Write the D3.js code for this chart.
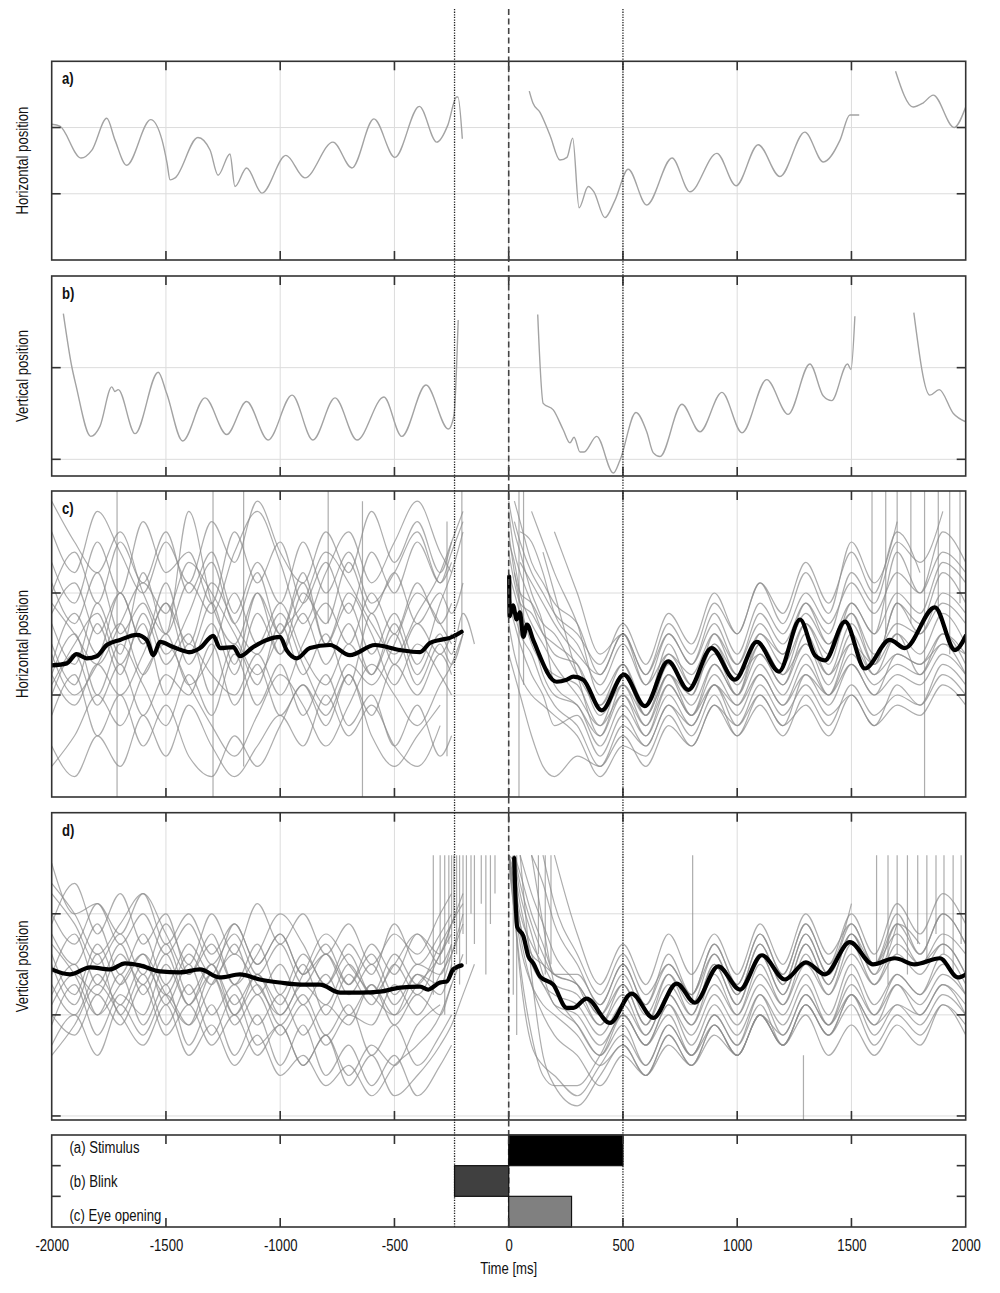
<!DOCTYPE html>
<html><head><meta charset="utf-8">
<script src="https://cdn.jsdelivr.net/npm/d3@7"></script>
<style>
body{margin:0;background:#fff;}
svg{display:block;font-family:"Liberation Sans",Arial,sans-serif;}
</style></head><body><svg id="chart" width="1000" height="1293"></svg>
<script>
// ---------------- DATA ----------------
const X_TICKS = [-2000,-1500,-1000,-500,0,500,1000,1500,2000];
const GRID_X = [-1500,-1000,-500,0,500,1000,1500];
const REF_TIMES = [-237, 0, 500];           // blink start, stimulus onset, stimulus end
const EVENT_ROWS = ["(a) Stimulus","(b) Blink","(c) Eye opening"];
const EVENT_START = [0, -237, 0];
const EVENT_END = [500, 0, 275];

// panel a: single trace, horizontal position (segments of [time, value])
const traceA = [
 [[-2000,2.05],[-1964,2.02],[-1872,1.54],[-1824,1.66],[-1759,2.14],[-1723,1.81],[-1672,1.43],[-1567,2.12],[-1517,1.81],[-1495,1.46],[-1482,1.21],[-1460,1.24],[-1360,1.85],[-1307,1.66],[-1272,1.28],[-1220,1.60],[-1198,1.11],[-1147,1.39],[-1080,1.01],[-975,1.58],[-892,1.24],[-769,1.78],[-686,1.39],[-590,2.13],[-498,1.55],[-391,2.32],[-315,1.78],[-266,2.04],[-228,2.46],[-222,2.46],[-203,1.83]],
 [[90,2.55],[106,2.37],[137,2.23],[181,1.88],[224,1.51],[255,1.55],[280,1.84],[308,0.79],[348,1.11],[373,1.03],[421,0.64],[465,0.90],[523,1.37],[604,0.83],[715,1.54],[793,1.03],[911,1.61],[995,1.12],[1092,1.74],[1187,1.26],[1296,1.93],[1377,1.48],[1450,1.81],[1493,2.19],[1534,2.19]],
 [[1693,2.85],[1770,2.31],[1813,2.37],[1858,2.49],[1949,2.00],[2000,2.31]]
];
// panel b: single trace, vertical position
const traceB = [
 [[-1949,2.59],[-1912,2.01],[-1894,1.81],[-1829,1.25],[-1789,1.36],[-1737,1.79],[-1723,1.74],[-1709,1.76],[-1635,1.28],[-1534,1.95],[-1497,1.72],[-1427,1.20],[-1329,1.67],[-1234,1.27],[-1147,1.63],[-1053,1.21],[-948,1.70],[-857,1.21],[-760,1.67],[-664,1.21],[-546,1.68],[-468,1.25],[-362,1.81],[-264,1.33],[-240,1.47],[-221,2.52]],
 [[127,2.58],[151,1.61],[195,1.54],[239,1.32],[268,1.18],[286,1.24],[312,1.08],[330,1.08],[385,1.25],[458,0.85],[487,0.99],[557,1.51],[604,1.30],[633,1.07],[662,1.03],[758,1.60],[837,1.30],[933,1.73],[1021,1.29],[1129,1.87],[1223,1.49],[1318,2.04],[1377,1.69],[1413,1.64],[1483,2.04],[1498,1.98],[1515,2.56]],
 [[1773,2.60],[1843,1.70],[1884,1.76],[1946,1.50],[2000,1.41]]
];

// panels c and d: individual trials on a common time grid
const PRE_T = [-2000,-1900,-1800,-1700,-1600,-1500,-1400,-1300,-1200,-1100,-1000,-900,-800,-700,-600,-500,-400,-300,-250,-200,-150,-100];
const POST_T = [0,25,50,100,150,200,300,400,500,600,700,800,900,1000,1100,1200,1300,1400,1500,1600,1700,1800,1900,2000];

const cPre = [
[1.5,1.1,1.7,1.2,1.8,1.3,1.6,1.0,1.5,1.1,1.7,1.2,1.6,1.1,1.8,1.3,1.7,1.4,1.6,null,null,null],
[2.0,2.4,1.9,2.5,2.1,2.6,2.0,2.4,1.8,2.3,1.9,2.5,2.0,2.4,1.9,2.2,2.6,2.1,2.4,2.7,null,null],
[1.0,1.4,0.9,1.3,0.8,1.2,1.0,1.5,0.9,1.3,0.8,1.1,0.7,1.2,0.8,1.3,1.0,1.4,1.2,null,null,null],
[0.5,0.2,0.6,0.3,0.8,0.4,0.9,0.5,0.2,0.5,0.8,0.5,1.0,0.6,0.9,0.5,0.3,0.7,null,null,null,null],
[1.3,1.8,1.4,2.0,1.5,2.1,1.4,1.9,1.3,2.0,1.6,2.2,1.5,1.9,1.4,1.8,1.3,1.9,2.2,2.6,null,null],
[1.7,1.3,1.9,1.4,2.2,1.6,2.8,1.9,1.5,2.0,1.4,1.8,1.3,1.7,1.2,1.6,1.1,1.5,1.3,1.6,null,null],
[2.3,1.9,2.5,2.0,2.7,2.2,2.4,1.9,2.6,2.1,2.5,1.9,2.3,1.8,2.4,2.0,2.5,2.1,2.3,null,null,null],
[1.2,1.6,1.0,1.5,1.1,0.7,1.2,0.8,1.4,0.9,1.3,0.8,1.2,0.7,1.0,0.5,0.9,0.4,0.6,null,null,null],
[1.8,2.1,1.6,2.0,1.5,1.9,1.3,1.7,1.2,1.8,1.4,2.0,1.7,2.3,1.8,2.2,1.7,2.0,1.8,2.1,null,null],
[0.8,1.2,0.6,1.0,0.5,0.9,0.4,0.2,0.6,0.3,0.7,1.1,0.8,1.2,0.6,0.3,0.6,0.9,null,null,null,null],
[2.6,2.2,2.8,2.4,2.0,2.5,2.1,2.7,2.3,2.9,2.4,2.1,2.6,2.2,2.8,2.3,2.7,2.2,2.5,null,null,null],
[1.4,1.0,1.3,1.7,1.2,1.6,1.1,1.4,2.0,1.5,1.9,1.4,1.1,1.5,1.2,1.7,1.2,1.6,1.4,1.8,1.5,null],
[1.1,1.5,1.8,1.3,1.7,1.0,1.5,1.2,1.0,1.4,1.0,1.5,1.9,1.5,2.0,1.6,2.1,1.7,1.9,null,null,null],
[2.1,1.7,2.2,1.6,1.9,1.4,1.8,2.3,1.7,2.2,1.6,2.1,1.5,2.0,1.6,1.1,1.5,1.2,1.0,null,null,null],
[2.9,2.5,2.2,2.6,2.0,1.6,2.1,1.8,2.4,2.8,2.3,1.7,2.2,2.6,2.1,2.5,2.9,2.4,2.2,null,null,null],
[0.3,0.6,1.0,0.7,1.2,1.5,1.1,0.7,0.4,0.8,1.2,0.9,0.5,0.9,1.3,1.0,0.7,1.1,1.3,1.6,null,null],
[1.9,1.6,1.3,1.7,2.1,1.8,2.3,2.0,1.6,1.2,1.6,1.9,2.4,2.1,1.7,1.4,1.8,2.2,2.5,2.8,null,null],
[1.2,0.9,1.3,1.0,1.4,1.9,1.5,2.1,1.7,1.4,1.8,1.3,0.9,1.3,1.1,1.5,2.0,1.7,1.5,null,null,null]
];
const cPost = [
[2.8,2.4,2.2,1.9,1.6,1.4,1.3,0.9,1.3,0.9,1.4,1.1,1.5,1.2,1.6,1.3,1.7,1.4,1.8,1.4,1.7,1.6,1.9,1.7],
[2.5,2.3,2.0,1.7,1.5,1.3,1.0,0.7,1.0,0.7,1.1,0.8,1.2,0.9,1.3,1.0,1.4,1.0,1.3,1.0,1.2,1.1,1.4,1.2],
[null,null,2.6,2.5,2.2,1.8,1.5,1.1,1.5,1.1,1.6,1.3,1.8,1.4,1.9,1.6,2.0,1.7,2.1,1.8,2.2,2.0,2.4,2.2],
[2.2,2.0,1.8,1.6,1.2,1.0,0.9,0.5,0.9,0.6,1.0,0.7,1.1,0.8,1.2,0.9,1.3,1.0,1.4,1.1,1.3,1.2,1.6,1.3],
[null,2.9,2.7,2.3,2.1,1.9,1.7,1.2,1.6,1.2,1.7,1.4,1.9,1.6,2.1,1.8,2.3,1.9,2.4,2.0,2.6,2.2,null,null],
[1.9,1.7,1.5,1.2,1.0,0.7,0.8,0.4,0.8,0.5,0.9,0.6,1.0,0.6,0.9,0.6,1.0,0.7,1.1,0.8,1.0,0.9,1.2,1.0],
[null,null,null,2.8,2.5,2.2,1.7,1.0,1.3,0.8,1.2,0.9,1.3,1.0,1.4,1.1,1.6,1.2,1.7,1.3,1.9,1.7,2.2,1.9],
[2.4,2.1,1.9,1.8,1.6,1.5,1.3,0.8,1.1,0.7,1.2,1.0,1.6,1.3,1.7,1.4,1.8,1.5,1.9,1.6,2.4,2.0,2.6,2.3],
[2.0,1.8,1.6,1.4,1.1,0.9,0.7,0.3,0.6,0.3,0.7,0.5,0.9,0.6,1.0,0.7,1.2,0.9,1.3,1.0,1.4,1.3,1.6,1.4],
[null,null,2.3,2.1,1.9,1.7,1.4,1.2,1.6,1.2,1.6,1.3,1.7,1.3,1.8,1.5,1.9,1.6,2.2,1.9,2.5,2.3,2.8,null],
[2.6,2.2,1.9,1.5,1.3,1.2,1.1,0.7,1.2,0.8,1.3,1.0,1.5,1.1,1.5,1.2,1.5,1.1,1.6,1.2,1.4,1.3,1.5,1.4],
[null,null,null,null,2.4,2.0,1.2,0.6,1.0,0.6,1.1,0.8,1.3,1.0,1.5,1.2,1.7,1.3,1.9,1.6,2.0,1.8,2.3,2.1],
[1.7,1.4,1.2,1.0,0.9,0.8,0.6,0.2,0.5,0.4,0.8,0.5,0.9,0.7,1.1,0.8,1.1,0.8,1.0,0.7,0.9,0.8,1.1,0.9],
[null,2.7,2.5,2.2,2.0,1.8,1.6,1.3,1.7,1.3,1.8,1.5,2.0,1.6,2.1,1.7,2.2,1.8,2.5,2.1,2.7,null,null,null],
[null,null,null,null,null,2.6,2.0,1.4,1.6,1.1,1.4,1.2,1.6,1.2,1.4,1.1,1.5,1.2,1.5,1.3,1.9,1.6,2.0,1.8],
[1.4,1.2,1.0,0.6,0.3,0.2,0.4,0.3,0.7,0.5,0.9,0.7,1.1,0.9,1.2,0.9,1.2,1.0,1.5,1.2,1.6,1.4,1.8,1.5],
[null,2.2,2.0,1.9,1.7,1.6,1.2,0.9,1.2,0.9,1.5,1.1,1.4,1.0,1.6,1.4,1.9,1.5,1.8,1.3,1.6,1.2,1.5,1.2],
[2.9,2.6,2.4,2.0,1.7,1.1,0.9,0.6,1.1,0.8,1.2,0.8,1.1,0.7,1.0,0.7,0.9,0.6,1.0,0.7,1.1,0.9,1.3,1.1]
];
// vertical artefacts: [time, from value, to value]
const cSpikes = [[-1714,3.0,0.0],[-1294,3.0,0.0],[-1160,3.0,0.3],[-790,3.0,1.7],[-640,2.9,0.0],[-270,2.7,0.4],[-205,3.0,1.6],[45,3.0,0.0],[65,3.0,1.1],[1590,3.0,1.3],[1650,3.0,1.6],[1700,3.0,1.5],[1760,3.0,1.7],[1820,3.0,0.0],[1880,3.0,1.8],[1930,3.0,1.4],[1975,3.0,1.9]];

const dPre = [
[2.4,2.8,2.3,2.7,2.2,2.6,2.1,2.5,2.0,2.4,2.1,2.5,2.0,2.4,2.1,2.5,2.2,2.6,2.8,null,null,null],
[3.5,3.0,3.1,2.7,3.0,2.6,2.9,2.5,2.8,2.4,2.7,2.3,2.6,2.2,2.5,2.1,2.4,2.3,2.6,3.0,null,null],
[2.0,1.8,2.2,1.9,2.3,1.8,2.1,1.7,2.0,1.6,1.9,1.5,1.8,1.4,1.7,1.5,1.9,2.1,null,null,null,null],
[2.8,2.5,2.9,2.4,2.8,2.3,2.7,2.4,2.9,2.5,2.8,2.4,2.7,2.3,2.6,2.2,2.5,2.4,2.7,null,null,null],
[2.2,2.5,2.0,2.4,1.9,2.3,1.7,2.1,1.6,2.0,1.5,1.9,1.4,1.7,1.3,1.6,1.2,1.5,1.7,null,null,null],
[3.2,2.9,2.5,2.8,2.4,2.9,2.5,3.0,2.6,3.1,2.7,3.0,2.6,2.9,2.5,2.8,2.6,3.0,3.2,null,null,null],
[1.9,2.3,1.8,2.2,2.0,2.5,2.1,2.4,1.9,2.2,1.8,2.1,1.7,2.0,1.9,2.3,2.0,2.4,2.6,2.9,null,null],
[2.6,2.2,2.7,2.3,2.6,2.1,2.5,2.0,2.3,1.9,2.2,1.8,2.1,1.9,2.3,2.0,2.4,2.2,2.5,null,null,null],
[2.3,2.0,2.4,2.1,2.5,2.2,2.6,2.3,2.7,2.2,2.5,2.1,2.4,2.0,2.3,1.9,2.2,2.0,2.3,2.6,null,null],
[1.7,2.0,1.6,2.1,1.8,2.2,1.9,2.4,2.0,2.3,1.9,2.2,1.8,2.1,1.6,1.9,1.5,1.8,2.0,null,null,null],
[3.0,2.7,3.1,2.8,3.2,2.7,3.0,2.6,2.9,2.5,2.8,2.4,2.6,2.3,2.7,2.4,2.8,2.6,2.9,3.1,null,null],
[2.1,2.4,2.2,2.6,2.3,2.7,2.2,2.5,2.1,2.4,2.0,2.3,2.1,2.5,2.2,2.6,2.3,2.7,2.9,null,null,null],
[2.5,2.1,2.6,2.0,2.4,1.9,2.3,1.8,2.2,1.7,1.9,1.5,1.8,1.3,1.6,1.2,1.4,1.7,1.9,2.2,2.5,null],
[2.9,3.3,2.8,3.2,2.7,3.0,2.4,2.8,2.3,2.7,2.2,2.6,2.3,2.7,2.4,2.9,2.5,2.8,3.0,null,null,null],
[3.3,3.0,2.6,2.9,3.2,2.8,2.4,2.7,2.3,2.6,3.0,2.7,2.3,2.6,2.2,2.5,2.8,2.5,2.7,null,null,null],
[1.6,1.9,2.3,2.0,1.7,2.1,1.6,1.9,1.5,1.8,1.4,1.6,1.3,1.5,1.2,1.5,1.7,2.0,2.3,null,null,null],
[2.7,2.4,2.0,2.3,2.6,2.2,1.9,2.3,2.6,2.3,2.0,2.4,2.8,2.5,2.2,2.0,2.3,2.6,2.9,3.2,null,null]
];
const dPost = [
[3.58,3.3,3.0,2.7,2.5,2.3,2.2,1.9,2.2,1.8,2.2,1.9,2.4,2.0,2.5,2.1,2.6,2.2,2.7,2.3,2.6,2.4,2.7,2.4],
[3.58,3.5,3.2,2.8,2.4,2.1,2.0,1.7,2.0,1.7,2.1,1.8,2.2,1.9,2.3,2.0,2.4,2.0,2.5,2.1,2.4,2.2,2.5,2.2],
[null,3.58,3.4,3.0,2.7,2.4,2.3,2.0,2.4,2.0,2.4,2.1,2.6,2.2,2.7,2.3,2.8,2.4,2.9,2.5,3.0,2.6,3.0,2.7],
[3.5,3.0,2.5,1.8,1.4,1.3,1.3,1.6,2.0,1.7,2.1,1.7,2.1,1.8,2.2,1.9,2.3,1.9,2.2,1.9,2.1,2.0,2.3,2.0],
[null,null,3.58,3.2,2.9,2.6,2.3,1.9,2.3,1.9,2.3,2.0,2.5,2.1,2.6,2.2,2.7,2.3,2.8,2.4,2.9,null,null,null],
[3.58,3.2,2.9,2.5,2.3,2.1,1.9,1.6,1.9,1.5,1.9,1.6,2.0,1.7,2.1,1.7,2.1,1.8,2.2,1.8,2.1,1.9,2.2,2.0],
[null,null,null,3.58,3.3,2.9,2.5,2.1,2.5,2.1,2.6,2.2,2.7,2.3,2.8,2.4,2.9,2.5,3.0,2.6,3.1,2.8,3.2,2.9],
[3.58,3.1,2.7,2.3,2.1,2.0,1.8,1.5,1.7,1.4,1.8,1.5,1.9,1.6,2.0,1.7,2.1,1.8,2.1,1.7,2.0,1.8,2.1,1.9],
[null,null,null,null,3.58,3.1,2.6,2.2,2.6,2.2,2.5,2.2,2.6,2.2,2.7,2.3,2.8,2.4,2.8,2.5,2.9,2.7,null,null],
[3.58,3.4,3.1,2.6,2.3,2.2,2.1,1.8,2.1,1.8,2.2,1.9,2.3,2.0,2.4,2.1,2.5,2.2,2.6,2.3,2.7,2.5,2.8,2.6],
[3.58,3.0,2.4,1.7,1.5,1.4,1.2,1.5,1.8,1.5,1.9,1.6,2.0,1.7,2.2,1.8,2.2,1.9,2.4,2.0,2.3,2.1,2.4,2.2],
[null,3.58,3.3,2.9,2.6,2.4,2.4,2.1,2.5,2.1,2.5,2.2,2.7,2.3,2.8,2.4,2.9,2.5,3.1,null,null,null,null,null],
[null,null,3.58,2.4,1.6,1.3,1.1,1.4,1.7,1.4,1.8,1.5,1.9,1.6,2.0,1.7,2.1,1.8,2.2,1.9,2.3,2.0,2.3,2.1],
[3.58,3.3,2.9,2.6,2.5,2.4,2.3,2.0,2.3,1.9,2.4,2.0,2.5,2.1,2.6,2.2,2.7,2.3,2.8,2.4,2.9,2.6,3.0,2.7],
[null,null,null,3.58,2.9,2.3,1.9,1.6,2.0,1.7,2.0,1.6,1.9,1.6,2.0,1.7,2.0,1.6,1.9,1.6,1.9,1.7,2.1,1.8],
[3.58,3.2,2.8,2.3,2.0,1.8,1.6,1.3,1.6,1.4,1.7,1.5,1.8,1.6,2.0,1.8,2.2,1.9,2.3,2.0,2.4,2.2,2.6,2.3],
[null,null,null,null,null,3.58,2.8,2.3,2.7,2.3,2.8,2.4,2.8,2.4,2.9,2.5,3.0,2.6,2.9,2.5,2.8,2.5,2.7,2.4]
];
const dSpikes = [[-330,2.2,3.58],[-300,2.5,3.58],[-280,2.0,3.58],[-262,2.7,3.58],[-250,2.4,3.58],[-240,2.9,3.58],[-228,2.6,3.58],[-215,2.3,3.58],[-200,2.8,3.58],[-185,2.5,3.58],[-165,3.0,3.58],[-150,2.7,3.58],[-120,3.1,3.58],[-100,2.4,3.58],[-80,2.9,3.58],[-60,3.2,3.58],[20,3.58,2.2],[35,3.58,1.8],[130,3.58,2.6],[160,3.58,2.4],[185,3.58,2.5],[805,2.1,3.58],[1290,1.6,0.96],[1610,2.5,3.58],[1660,2.3,3.58],[1700,2.6,3.58],[1745,2.4,3.58],[1790,2.7,3.58],[1830,2.5,3.58],[1870,2.8,3.58],[1905,2.6,3.58],[1945,2.4,3.58],[1980,2.7,3.58]];

// grand averages (black)
const meanC = [
 [[-2000,1.29],[-1934,1.31],[-1891,1.40],[-1847,1.36],[-1803,1.38],[-1759,1.49],[-1701,1.54],[-1628,1.59],[-1584,1.54],[-1555,1.39],[-1526,1.52],[-1468,1.47],[-1395,1.42],[-1351,1.46],[-1293,1.58],[-1263,1.46],[-1205,1.47],[-1176,1.38],[-1118,1.47],[-1059,1.54],[-1001,1.57],[-972,1.44],[-928,1.36],[-870,1.46],[-782,1.49],[-695,1.39],[-585,1.49],[-476,1.44],[-388,1.42],[-345,1.51],[-301,1.54],[-257,1.56],[-206,1.62]],
 [[2,2.16],[4,1.77],[19,1.88],[35,1.74],[49,1.81],[64,1.57],[80,1.69],[107,1.54],[210,1.13],[254,1.15],[283,1.18],[326,1.15],[407,0.85],[504,1.20],[596,0.89],[698,1.33],[786,1.05],[888,1.46],[990,1.15],[1086,1.52],[1183,1.23],[1275,1.74],[1340,1.39],[1384,1.34],[1472,1.72],[1559,1.26],[1668,1.54],[1734,1.46],[1865,1.86],[1953,1.44],[2000,1.58]]
];
const meanD = [
 [[-2000,2.45],[-1920,2.40],[-1832,2.47],[-1745,2.45],[-1679,2.51],[-1614,2.49],[-1526,2.43],[-1439,2.42],[-1351,2.45],[-1264,2.37],[-1176,2.40],[-1089,2.35],[-1001,2.32],[-913,2.30],[-826,2.30],[-738,2.22],[-651,2.22],[-563,2.23],[-476,2.27],[-388,2.28],[-352,2.25],[-301,2.32],[-271,2.33],[-243,2.45],[-206,2.49]],
 [[24,3.55],[37,2.87],[64,2.78],[86,2.58],[108,2.51],[137,2.38],[195,2.30],[254,2.07],[283,2.07],[341,2.16],[443,1.92],[538,2.21],[633,1.97],[735,2.31],[815,2.12],[917,2.48],[1012,2.25],[1108,2.59],[1209,2.35],[1301,2.52],[1384,2.40],[1493,2.72],[1594,2.50],[1690,2.56],[1777,2.50],[1887,2.56],[1966,2.37],[2000,2.40]]
];

// ---------------- DRAWING ----------------
const LEFT = 51.7, RIGHT = 965.7;
const NARROW = 0.82;   // horizontal squeeze to mimic a condensed face
const svg = d3.select("#chart");
const x = d3.scaleLinear().domain([-2000, 2000]).range([LEFT, RIGHT]);
const TICK = 9;
const FRAME = "#333";

function label(parent, px, py, txt, opts = {}) {
  const rot = opts.rotate ? ` rotate(${opts.rotate})` : "";
  return parent.append("text")
    .attr("transform", `translate(${px},${py})${rot} scale(${NARROW},1)`)
    .attr("text-anchor", opts.anchor || "start")
    .attr("font-size", opts.size || 16)
    .attr("font-weight", opts.weight || "normal")
    .attr("fill", "#111").text(txt);
}

const panels = [
  {id:"a", top:61.3, bottom:260, domain:[0,3], ticks:[1,2], label:"a)", ylab:"Horizontal position"},
  {id:"b", top:276, bottom:476, domain:[0.818,3], ticks:[1,2], label:"b)", ylab:"Vertical position"},
  {id:"c", top:491, bottom:797, domain:[0,3], ticks:[1,2], label:"c)", ylab:"Horizontal position"},
  {id:"d", top:812.7, bottom:1120, domain:[0.96,4], ticks:[1,2,3], label:"d)", ylab:"Vertical position"}
];

const defs = svg.append("defs");
function gridToPairs(times, vals){ return vals.map((v,i)=>[times[i], v]); }

panels.forEach(p => {
  const y = d3.scaleLinear().domain(p.domain).range([p.bottom, p.top]);
  const g = svg.append("g");
  defs.append("clipPath").attr("id","clip-"+p.id).append("rect")
    .attr("x", LEFT).attr("y", p.top).attr("width", RIGHT-LEFT).attr("height", p.bottom-p.top);

  g.selectAll(".gx").data(GRID_X).join("line")
    .attr("x1", d=>x(d)).attr("x2", d=>x(d)).attr("y1", p.top).attr("y2", p.bottom)
    .attr("stroke", "#dcdcdc").attr("stroke-width", 1);
  g.selectAll(".gy").data(p.ticks).join("line")
    .attr("x1", LEFT).attr("x2", RIGHT).attr("y1", d=>y(d)).attr("y2", d=>y(d))
    .attr("stroke", "#dcdcdc").attr("stroke-width", 1);

  const plot = g.append("g").attr("clip-path", "url(#clip-"+p.id+")");
  const line = d3.line().defined(d=>d[1]!=null).x(d=>x(d[0])).y(d=>y(d[1])).curve(d3.curveMonotoneX);

  if (p.id === "a" || p.id === "b") {
    const tr = p.id === "a" ? traceA : traceB;
    plot.selectAll(".tr").data(tr).join("path")
      .attr("d", line).attr("fill","none").attr("stroke","#a3a3a3").attr("stroke-width",1.4);
  } else {
    const pre = p.id === "c" ? cPre : dPre;
    const post = p.id === "c" ? cPost : dPost;
    const spikes = p.id === "c" ? cSpikes : dSpikes;
    const mean = p.id === "c" ? meanC : meanD;
    const traces = pre.map(v=>gridToPairs(PRE_T, v)).concat(post.map(v=>gridToPairs(POST_T, v)));
    plot.selectAll(".tr").data(traces).join("path")
      .attr("d", line).attr("fill","none").attr("stroke","#8a8a8a")
      .attr("stroke-opacity",0.7).attr("stroke-width",1.2);
    plot.selectAll(".sp").data(spikes).join("line")
      .attr("x1", d=>x(d[0])).attr("x2", d=>x(d[0]))
      .attr("y1", d=>y(d[1])).attr("y2", d=>y(d[2]))
      .attr("stroke","#8a8a8a").attr("stroke-opacity",0.7).attr("stroke-width",1.2);
    plot.selectAll(".mn").data(mean).join("path")
      .attr("d", line).attr("fill","none").attr("stroke","#000")
      .attr("stroke-width",4.2).attr("stroke-linejoin","round").attr("stroke-linecap","round");
  }

  g.append("rect").attr("x", LEFT).attr("y", p.top).attr("width", RIGHT-LEFT).attr("height", p.bottom-p.top)
    .attr("fill","none").attr("stroke",FRAME).attr("stroke-width",1.6);
  GRID_X.forEach(t => {
    g.append("line").attr("x1",x(t)).attr("x2",x(t)).attr("y1",p.top).attr("y2",p.top+TICK).attr("stroke",FRAME).attr("stroke-width",1.6);
    g.append("line").attr("x1",x(t)).attr("x2",x(t)).attr("y1",p.bottom).attr("y2",p.bottom-TICK).attr("stroke",FRAME).attr("stroke-width",1.6);
  });
  p.ticks.forEach(v => {
    g.append("line").attr("x1",LEFT).attr("x2",LEFT+TICK).attr("y1",y(v)).attr("y2",y(v)).attr("stroke",FRAME).attr("stroke-width",1.6);
    g.append("line").attr("x1",RIGHT).attr("x2",RIGHT-TICK).attr("y1",y(v)).attr("y2",y(v)).attr("stroke",FRAME).attr("stroke-width",1.6);
  });
  label(g, 62, p.top+23, p.label, {weight:"bold"});
  label(g, 28, (p.top+p.bottom)/2, p.ylab, {anchor:"middle", rotate:-90});
});

// event panel
const EV_TOP = 1135, EV_BOTTOM = 1227;
const yEv = d3.scaleBand().domain(EVENT_ROWS).range([EV_TOP, EV_BOTTOM]);

const refStyle = [{dash:"1.3,1.3", w:1.3, c:"#222"}, {dash:"6,3.5", w:1.6, c:"#444"}, {dash:"1.3,1.3", w:1.3, c:"#222"}];
svg.append("g").selectAll("line").data(REF_TIMES).join("line")
  .attr("x1", d=>x(d)).attr("x2", d=>x(d)).attr("y1", 9).attr("y2", EV_BOTTOM)
  .attr("stroke", (d,i)=>refStyle[i].c).attr("stroke-width", (d,i)=>refStyle[i].w)
  .attr("stroke-dasharray", (d,i)=>refStyle[i].dash);

const ev = svg.append("g");
const barFill = ["#000000", "#404040", "#808080"];
ev.selectAll("rect.bar").data(EVENT_ROWS).join("rect").attr("class","bar")
  .attr("x", (d,i)=>x(EVENT_START[i])).attr("width", (d,i)=>x(EVENT_END[i])-x(EVENT_START[i]))
  .attr("y", d=>yEv(d)).attr("height", yEv.bandwidth())
  .attr("fill", (d,i)=>barFill[i]).attr("stroke","#111").attr("stroke-width",1.2);
ev.append("rect").attr("x", LEFT).attr("y", EV_TOP).attr("width", RIGHT-LEFT).attr("height", EV_BOTTOM-EV_TOP)
  .attr("fill","none").attr("stroke",FRAME).attr("stroke-width",1.6);
GRID_X.forEach(t => {
  ev.append("line").attr("x1",x(t)).attr("x2",x(t)).attr("y1",EV_TOP).attr("y2",EV_TOP+TICK).attr("stroke",FRAME).attr("stroke-width",1.6);
  ev.append("line").attr("x1",x(t)).attr("x2",x(t)).attr("y1",EV_BOTTOM).attr("y2",EV_BOTTOM-TICK).attr("stroke",FRAME).attr("stroke-width",1.6);
});
EVENT_ROWS.slice(1).forEach(r => {
  ev.append("line").attr("x1",LEFT).attr("x2",LEFT+TICK).attr("y1",yEv(r)).attr("y2",yEv(r)).attr("stroke",FRAME).attr("stroke-width",1.6);
  ev.append("line").attr("x1",RIGHT).attr("x2",RIGHT-TICK).attr("y1",yEv(r)).attr("y2",yEv(r)).attr("stroke",FRAME).attr("stroke-width",1.6);
});
EVENT_ROWS.forEach((r,i) => label(ev, 69.5, yEv(r)+yEv.bandwidth()/2+3+3.3*i, r));

// x axis labels
const axis = d3.axisBottom(x).tickValues(X_TICKS).tickSize(0).tickPadding(13).tickFormat(d => String(d));
const ax = svg.append("g").attr("transform", `translate(0,${EV_BOTTOM})`).call(axis);
ax.select(".domain").remove();
ax.selectAll("text").attr("font-size",16).attr("fill","#111")
  .attr("font-family",'"Liberation Sans",Arial,sans-serif')
  .attr("transform", `scale(${NARROW},1)`);
label(svg, x(0), 1274, "Time [ms]", {anchor:"middle"});
</script>
</body></html>
